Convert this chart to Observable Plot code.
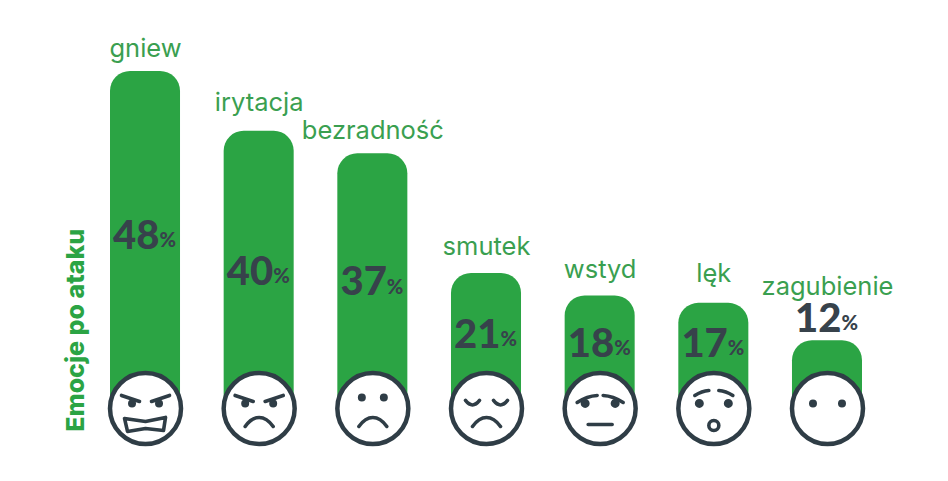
<!DOCTYPE html>
<html><head><meta charset="utf-8">
<script src="https://cdn.jsdelivr.net/npm/d3@7"></script>
<script src="https://cdn.jsdelivr.net/npm/@observablehq/plot@0.6"></script>
<style>html,body{margin:0;padding:0;background:#fff}svg{display:block}</style>
</head><body><div id="chart"></div>
<script>
const categories = ["gniew","irytacja","bezradność","smutek","wstyd","lęk","zagubienie"];
const values = [48,40,37,21,18,17,12];
// where each label sits, read in the units of the y axis
const categoryLevels = [51,43.8,40.1,24.6,21.5,21,19.2];
const valueLevels = [26,21.2,19.8,12.8,11.6,11.6,14.9];
const axisTitle = "Emocje po ataku";
const faceLevel = 2.95;
const titleLevel = 13.4;

const green = "#2ba444", labelGreen = "#3a9f50", dark = "#2f3d46", numberDark = "#37424b";
const table = categories.map((name,i)=>({name,value:values[i],cat:categoryLevels[i],val:valueLevels[i]}));

const sym = draw => ({draw});
const arcDown = (c,x1,y1,xm,ym,x2,y2)=>{c.moveTo(x1,y1);c.quadraticCurveTo(xm,2*ym-(y1+y2)/2,x2,y2);};
const eye = (c,x,y,r)=>{c.moveTo(x+r,y);c.arc(x,y,r,0,2*Math.PI);};
const frown = c => {c.moveTo(-14,18);c.bezierCurveTo(-9,11,-4,9,0,9);c.bezierCurveTo(4,9,9,11,14,18);};
const seg = (c,a,b,d,e)=>{c.moveTo(a,b);c.lineTo(d,e);};

const lineIcons = [
  sym(c=>{seg(c,-24,-13,-6,-7);seg(c,24,-13,6,-7);
          c.moveTo(-21,10);c.lineTo(0,13);c.lineTo(20,9);c.lineTo(18,22);c.lineTo(0,20);c.lineTo(-18,23);c.closePath();}),
  sym(c=>{seg(c,-24,-13,-6,-7);seg(c,24,-13,6,-7);frown(c);}),
  sym(frown),
  sym(c=>{arcDown(c,-21,-8,-14,-3.5,-7,-8);arcDown(c,7,-8,14,-3.5,21,-8);frown(c);}),
  sym(c=>{arcDown(c,-23,-6,-13,-11,-3,-13);arcDown(c,3,-13,13,-11,23,-6);seg(c,-12,16,12,16);}),
  sym(c=>{arcDown(c,-19,-13,-12,-16.5,-5,-18);arcDown(c,5,-18,12,-16.5,19,-13);c.moveTo(5,17);c.arc(0,17,5,0,2*Math.PI);}),
  sym(()=>{})
];
const eyeIcons = [
  sym(c=>{eye(c,-13.5,-5,4);eye(c,13.5,-5,4);}),
  sym(c=>{eye(c,-14,-5,4);eye(c,14,-5,4);}),
  sym(c=>{eye(c,-11,-11,4);eye(c,11,-11,4);}),
  sym(()=>{}),
  sym(c=>{eye(c,-15,-5,4.5);eye(c,15,-5,4.5);}),
  sym(c=>{eye(c,-14.5,-5,4.5);eye(c,14.5,-5,4.5);}),
  sym(c=>{eye(c,-14.5,-5,4);eye(c,14.5,-5,4);})
];

const valueFont = {fontFamily:"Lato",fontWeight:900,fill:numberDark};
const chart = Plot.plot({
  width:948,height:481,
  marginTop:0,marginRight:0,marginBottom:0,marginLeft:0,
  style:{background:"#fff"},
  x:{domain:categories,range:[110,862],paddingInner:0.384,paddingOuter:0,round:false,axis:null},
  y:{domain:[0,48],range:[430,71],axis:null},
  marks:[
    Plot.barY(table,{x:"name",y:"value",fill:green,rx:20}),
    Plot.dot(table,{x:"name",y:()=>faceLevel,r:35.5,fill:"#fff",stroke:dark,strokeWidth:4.5}),
    ...categories.map((name,i)=>Plot.dot([table[i]],{x:"name",y:()=>faceLevel,r:5,symbol:lineIcons[i],fill:"none",stroke:dark,strokeWidth:3.6,strokeLinecap:"round",strokeLinejoin:"round"})),
    ...categories.map((name,i)=>Plot.dot([table[i]],{x:"name",y:()=>faceLevel,r:5,symbol:eyeIcons[i],fill:dark,stroke:"none"})),
    Plot.text(table,{x:"name",y:"cat",text:"name",fill:labelGreen,fontSize:25.5,fontFamily:"Inter",fontWeight:400}),
    Plot.text(table,{x:"name",y:"val",text:d=>String(d.value),textAnchor:"end",dx:14,fontSize:40,...valueFont}),
    Plot.text(table,{x:"name",y:"val",text:()=>"%",textAnchor:"start",dx:14,dy:5,fontSize:20,...valueFont}),
    Plot.text([axisTitle],{text:d=>d,y:()=>titleLevel,frameAnchor:"left",dx:75,rotate:-90,textAnchor:"middle",fill:green,fontSize:25,fontFamily:"Inter",fontWeight:800})
  ]
});
document.getElementById("chart").append(chart);
</script></body></html>
